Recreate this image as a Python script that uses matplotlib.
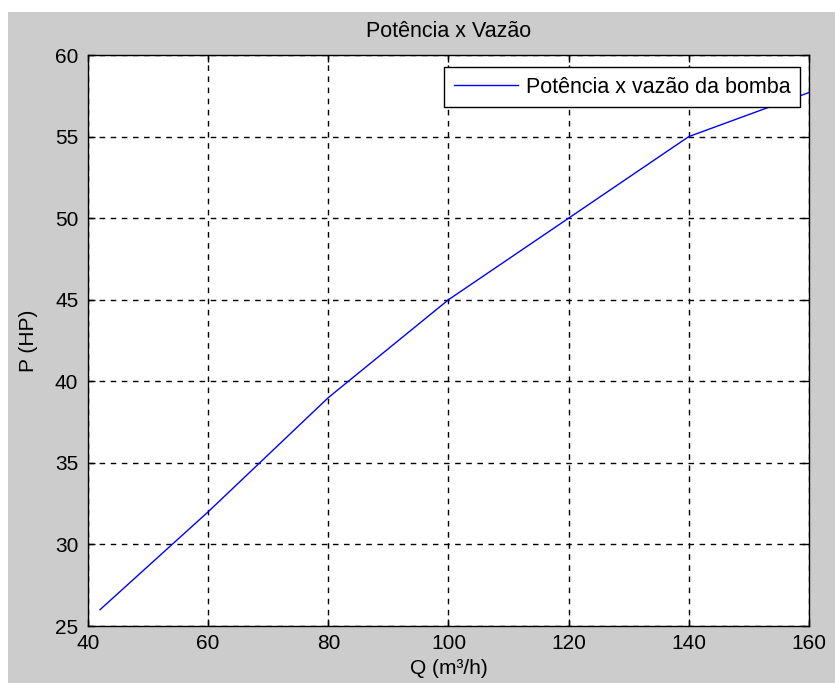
import matplotlib
matplotlib.use('Agg')
import matplotlib.pyplot as plt
from matplotlib.patches import Rectangle

# vazao (m3/h) e potencia (HP)
vazao = [42, 60, 80, 100, 120, 140, 160]
potencia = [26, 32, 39, 45, 50, 55, 57.7]

xticks = [40, 60, 80, 100, 120, 140, 160]
yticks = [25, 30, 35, 40, 45, 50, 55, 60]

plt.rcParams['font.family'] = ['Liberation Sans', 'DejaVu Sans']

fig = plt.figure(figsize=(8.35, 6.83), dpi=100, facecolor='white')
# fundo cinza da janela
fig.patches.append(Rectangle((8 / 835, 0), 1, 1 - 12 / 683, transform=fig.transFigure,
							 facecolor='#cccccc', edgecolor='none', zorder=-1))

ax = fig.add_axes([88 / 835, 1 - 626 / 683, (809 - 88) / 835, (626 - 55) / 683])
ax.plot(vazao, potencia, color='#0000ff', lw=1, label='Potência x vazão da bomba')

ax.set_xlim(40, 160)
ax.set_ylim(25, 60)
ax.set_xticks(xticks)
ax.set_yticks(yticks)
ax.tick_params(direction='in', top=True, right=True, labelsize=15, length=5, width=1)
ax.tick_params(axis='x', pad=6)
ax.tick_params(axis='y', pad=7)
ax.grid(True, color='black', linestyle=(0, (4, 4)), linewidth=1)
for s in ax.spines.values():
	s.set_linewidth(1)

ax.set_title('Potência x Vazão', fontsize=15.5, pad=13)
ax.set_xlabel('Q (m³/h)', fontsize=15, labelpad=4)
ax.set_ylabel('P (HP)', fontsize=15, labelpad=12)

leg = ax.legend(loc='upper right', bbox_to_anchor=(0.9875, 0.979), prop={'size': 15.5},
				fancybox=False, framealpha=1, edgecolor='black', handlelength=3.0,
				borderaxespad=0, borderpad=0.45, handletextpad=0.35)
leg.get_frame().set_linewidth(1)

fig.savefig('out.png', dpi=100, facecolor=fig.get_facecolor())
